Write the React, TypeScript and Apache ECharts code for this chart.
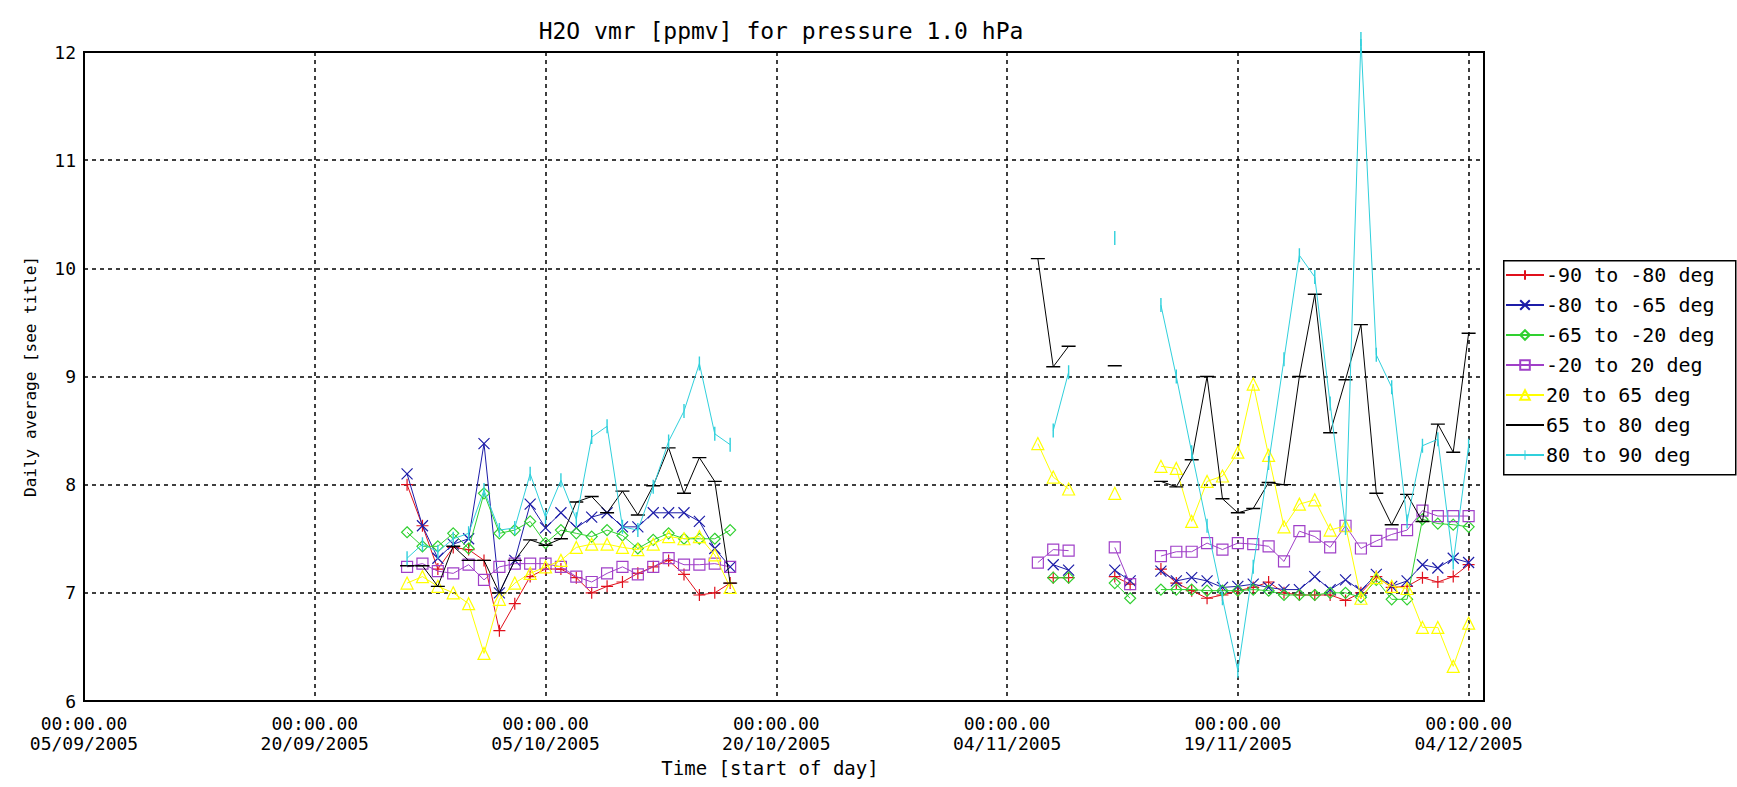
import React, { useEffect, useRef } from "react";
import * as echarts from "echarts";

// ---------- data ----------
const startDate = "2005-09-05";
const endDate = "2005-12-05";
const xTickStepDays = 15;
const xTickLabels = [
  "00:00.00\n05/09/2005",
  "00:00.00\n20/09/2005",
  "00:00.00\n05/10/2005",
  "00:00.00\n20/10/2005",
  "00:00.00\n04/11/2005",
  "00:00.00\n19/11/2005",
  "00:00.00\n04/12/2005",
];
const yMin = 6;
const yMax = 12;
const yStep = 1;
const yTicksValues = [6, 7, 8, 9, 10, 11, 12];

const titleText = "H2O vmr [ppmv] for pressure 1.0 hPa";
const xName = "Time [start of day]";
const yName = "Daily average [see title]";

const days1 = [
  "2005-09-26", "2005-09-27", "2005-09-28", "2005-09-29", "2005-09-30", "2005-10-01",
  "2005-10-02", "2005-10-03", "2005-10-04", "2005-10-05", "2005-10-06", "2005-10-07",
  "2005-10-08", "2005-10-09", "2005-10-10", "2005-10-11", "2005-10-12", "2005-10-13",
  "2005-10-14", "2005-10-15", "2005-10-16", "2005-10-17",
];
const days2 = [
  "2005-11-06", "2005-11-07", "2005-11-08", "2005-11-09", "2005-11-10", "2005-11-11",
  "2005-11-12", "2005-11-13", "2005-11-14", "2005-11-15", "2005-11-16", "2005-11-17",
  "2005-11-18", "2005-11-19", "2005-11-20", "2005-11-21", "2005-11-22", "2005-11-23",
  "2005-11-24", "2005-11-25", "2005-11-26", "2005-11-27", "2005-11-28", "2005-11-29",
  "2005-11-30", "2005-12-01", "2005-12-02", "2005-12-03", "2005-12-04",
];

const seriesNames = [
  "-90 to -80 deg",
  "-80 to -65 deg",
  "-65 to -20 deg",
  "-20 to 20 deg",
  "20 to 65 deg",
  "65 to 80 deg",
  "80 to 90 deg",
];

const red1 = [8.0, 7.62, 7.22, 7.42, 7.4, 7.3, 6.65, 6.9, 7.15, 7.22, 7.22, 7.14, 7.0, 7.06, 7.1, 7.18, 7.24, 7.3, 7.17, 6.98, 7.0, 7.09];
const red2 = [null, 7.14, 7.14, null, null, 7.15, 7.08, null, 7.22, 7.09, 7.02, 6.95, 6.98, 7.02, 7.05, 7.1, 7.0, 6.98, 6.98, 6.98, 6.93, 7.0, 7.15, 7.05, 7.06, 7.14, 7.1, 7.15, 7.26];

const blue1 = [8.1, 7.62, 7.32, 7.45, 7.5, 8.38, 7.0, 7.3, 7.82, 7.6, 7.74, 7.6, 7.7, 7.74, 7.61, 7.61, 7.74, 7.74, 7.74, 7.66, 7.41, 7.24];
const blue2 = [null, 7.26, 7.21, null, null, 7.21, 7.11, null, 7.2, 7.11, 7.14, 7.11, 7.05, 7.06, 7.08, 7.05, 7.03, 7.03, 7.15, 7.03, 7.12, 7.02, 7.17, 7.06, 7.11, 7.26, 7.23, 7.32, 7.28];

const green1 = [7.56, 7.43, 7.43, 7.55, 7.41, 7.92, 7.55, 7.58, 7.66, 7.46, 7.58, 7.55, 7.52, 7.58, 7.53, 7.41, 7.49, 7.55, 7.5, 7.5, 7.5, 7.58];
const green2 = [null, 7.14, 7.14, null, null, 7.09, 6.95, null, 7.03, 7.03, 7.03, 7.02, 7.02, 7.02, 7.03, 7.02, 6.98, 6.98, 6.98, 7.0, 7.0, 6.96, 7.12, 6.94, 6.94, 7.68, 7.64, 7.63, 7.61];

const purple1 = [7.24, 7.27, 7.2, 7.18, 7.26, 7.12, 7.24, 7.27, 7.27, 7.27, 7.24, 7.15, 7.1, 7.18, 7.24, 7.17, 7.24, 7.32, 7.26, 7.26, 7.27, 7.24];
const purple2 = [7.28, 7.4, 7.39, null, null, 7.42, 7.08, null, 7.34, 7.38, 7.38, 7.46, 7.4, 7.46, 7.45, 7.43, 7.29, 7.57, 7.52, 7.42, 7.62, 7.41, 7.48, 7.54, 7.58, 7.76, 7.71, 7.71, 7.71];

const yellow1 = [7.09, 7.15, 7.06, 7.0, 6.9, 6.44, 6.94, 7.09, 7.18, 7.24, 7.3, 7.42, 7.45, 7.45, 7.42, 7.4, 7.45, 7.52, 7.5, 7.52, 7.35, 7.05];
const yellow2 = [8.38, 8.07, 7.96, null, null, 7.92, null, null, 8.17, 8.15, 7.66, 8.03, 8.08, 8.3, 8.93, 8.27, 7.61, 7.82, 7.86, 7.58, 7.62, 6.95, 7.14, 7.06, 7.04, 6.68, 6.68, 6.32, 6.72];

const black1 = [7.25, 7.25, 7.06, 7.43, 7.3, 7.3, 7.0, 7.3, 7.49, 7.44, 7.5, 7.84, 7.89, 7.74, 7.94, 7.72, 7.99, 8.34, 7.92, 8.25, 8.03, 7.09];
const black2 = [10.09, 9.09, 9.28, null, null, 9.1, null, null, 8.03, 7.98, 8.23, 9.0, 7.87, 7.74, 7.78, 8.02, 8.0, 9.0, 9.76, 8.48, 8.97, 9.48, 7.92, 7.63, 7.91, 7.66, 8.56, 8.3, 9.4];

const cyan1 = [7.32, 7.45, 7.38, 7.5, 7.55, 7.95, 7.58, 7.6, 8.1, 7.7, 8.04, 7.68, 8.44, 8.54, 7.61, 7.58, 7.98, 8.4, 8.68, 9.12, 8.47, 8.37];
const cyan2 = [null, 8.5, 9.04, null, null, 10.28, null, null, 9.66, 9.0, 8.3, 7.62, 6.95, 6.28, 7.24, 8.2, 9.16, 10.12, 9.92, 8.75, 7.6, 12.12, 9.2, 8.9, 7.66, 8.36, 8.42, 7.28, 8.36];

const values1 = [red1, blue1, green1, purple1, yellow1, black1, cyan1];
const values2 = [red2, blue2, green2, purple2, yellow2, black2, cyan2];

// ---------- styles ----------
const colors = ["#e0101c", "#1c1ca8", "#30d030", "#a040c8", "#ffff00", "#000000", "#30d0dc"];
const PLUS = "path://M6,0V12M0,6H12";
const CROSS = "path://M0,0L12,12M12,0L0,12";
const HBAR = "path://M0,0L0,0ZM14,14L14,14ZM0,6.3H14V7.7H0Z";
const VBAR = "path://M0,0L0,0ZM14,14L14,14ZM6.3,0H7.7V14H6.3Z";
const symbols = [PLUS, CROSS, "diamond", "rect", "triangle", HBAR, VBAR];
const symbolSizes = [12, 11, 11, 11, 12, 14, 14];
const filledSymbol = [false, false, false, false, false, true, true];

const mono = "'DejaVu Sans Mono', monospace";
const DAY = 86400000;
const dayOf = (d: string) => (Date.parse(d) - Date.parse(startDate)) / DAY;

function buildData(i: number) {
  const a = days1.map((d, k) => [dayOf(d), values1[i][k]]);
  const gapX = dayOf(days1[days1.length - 1]) + 1;
  const b = days2.map((d, k) => [dayOf(d), values2[i][k]]);
  return [...a, [gapX, null], ...b];
}

function yTicksHas(v: number) {
  return yTicksValues.some((t) => Math.abs(t - v) < 1e-6);
}

export default function App() {
  const ref = useRef<HTMLDivElement>(null);
  useEffect(() => {
    if (!ref.current) return;
    const chart = echarts.init(ref.current, undefined, { renderer: "svg" });
    const series = seriesNames.map((name, i) => ({
      name,
      type: "line",
      data: buildData(i),
      symbol: symbols[i],
      symbolSize: symbolSizes[i],
      symbolKeepAspect: true,
      showSymbol: true,
      connectNulls: false,
      clip: i !== 6,
      lineStyle: { color: colors[i], width: 1 },
      itemStyle: filledSymbol[i]
        ? { color: colors[i], borderWidth: 0 }
        : { color: "transparent", borderColor: colors[i], borderWidth: 1.2 },
      emphasis: { disabled: true },
      z: 2 + i,
    }));
    const option = {
      animation: false,
      backgroundColor: "#ffffff",
      title: {
        text: titleText,
        left: 781,
        top: 19,
        textAlign: "center",
        padding: 0,
        textStyle: { fontFamily: mono, fontSize: 23, fontWeight: "normal", color: "#000" },
      },
      grid: {
        left: 84,
        top: 52,
        width: 1400,
        height: 649,
        show: true,
        borderColor: "#000",
        borderWidth: 2,
        backgroundColor: "transparent",
      },
      xAxis: {
        type: "value",
        min: 0,
        max: dayOf(endDate),
        interval: xTickStepDays,
        axisLine: { show: false },
        axisTick: { show: false },
        splitLine: { show: true, lineStyle: { color: "#000", type: [4, 4], width: 1.5 } },
        axisLabel: {
          fontFamily: mono,
          fontSize: 18,
          lineHeight: 20,
          color: "#000",
          margin: 12,
          showMaxLabel: false,
          formatter: (v: number) => {
            const k = Math.round(v / xTickStepDays);
            return Math.abs(v - k * xTickStepDays) < 1e-6 && xTickLabels[k] ? xTickLabels[k] : "";
          },
        },
        name: xName,
        nameLocation: "middle",
        nameGap: 57,
        nameTextStyle: { fontFamily: mono, fontSize: 19, color: "#000", padding: [0, 28, 0, 0] },
      },
      yAxis: {
        type: "value",
        min: yMin,
        max: yMax,
        interval: yStep,
        axisLine: { show: false },
        axisTick: { show: false },
        splitLine: { show: true, lineStyle: { color: "#000", type: [4, 4], width: 1.5 } },
        axisLabel: {
          fontFamily: mono,
          fontSize: 18,
          color: "#000",
          margin: 8,
          formatter: (v: number) => (yTicksHas(v) ? String(v) : ""),
        },
        name: yName,
        nameLocation: "middle",
        nameGap: 46,
        nameTextStyle: { fontFamily: mono, fontSize: 16, color: "#000" },
      },
      legend: {
        orient: "vertical",
        left: 1503,
        top: 260,
        itemWidth: 38,
        itemHeight: 12,
        itemGap: 10,
        padding: [5, 10, 5, 2],
        borderWidth: 0,
        selectedMode: false,
        textStyle: { fontFamily: mono, fontSize: 20, color: "#000", padding: [0, 0, 0, -3] },
        data: seriesNames,
      },
      graphic: [
        {
          type: "rect",
          left: 1503,
          top: 260,
          shape: { width: 232, height: 214 },
          style: { fill: "transparent", stroke: "#000", lineWidth: 1.5 },
          silent: true,
          z: 0,
        },
      ],
      series,
    };
    chart.setOption(option as any);
    return () => chart.dispose();
  }, []);
  return (
    <div
      ref={ref}
      style={{ position: "fixed", left: 0, top: 0, width: 1737, height: 787, background: "#fff" }}
    />
  );
}
